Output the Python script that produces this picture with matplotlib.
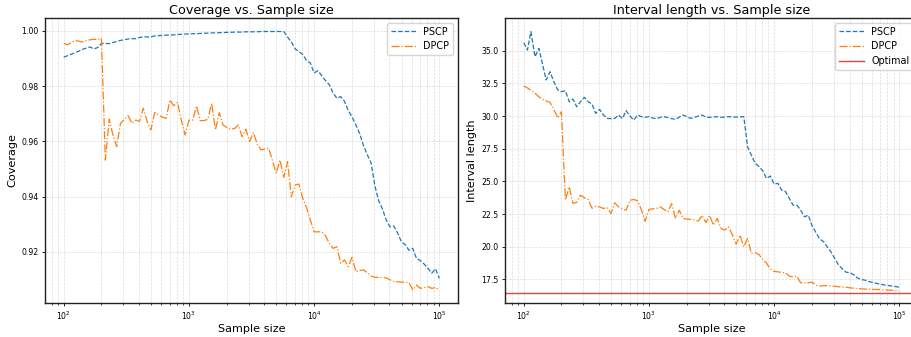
import numpy as np
import matplotlib
matplotlib.use('Agg')
import matplotlib.pyplot as plt

# sample sizes (log spaced, 100 points)
sample_sizes = [100, 107, 114, 123, 132, 141, 151, 162, 174, 187,
                200, 215, 231, 247, 265, 284, 305, 327, 351, 376,
                403, 432, 464, 497, 533, 572, 613, 657, 705, 756,
                811, 869, 932, 1000, 1072, 1149, 1232, 1321, 1417, 1519,
                1629, 1747, 1873, 2009, 2154, 2310, 2477, 2656, 2848, 3053,
                3274, 3511, 3764, 4037, 4328, 4641, 4977, 5336, 5722, 6135,
                6579, 7054, 7564, 8111, 8697, 9326, 10000, 10722, 11497, 12328,
                13219, 14174, 15199, 16297, 17475, 18738, 20092, 21544, 23101, 24770,
                26560, 28480, 30538, 32745, 35111, 37649, 40370, 43287, 46415, 49770,
                53366, 57223, 61359, 65793, 70548, 75646, 81113, 86974, 93260, 100000]

# coverage
pscp_cov = [0.9905, 0.9910, 0.9915, 0.9921, 0.9927, 0.9933, 0.9938, 0.9942, 0.9935, 0.9940,
            0.9955, 0.9955, 0.9954, 0.9958, 0.9962, 0.9966, 0.9968, 0.9971, 0.9972, 0.9972,
            0.9976, 0.9979, 0.9978, 0.9979, 0.9982, 0.9983, 0.9984, 0.9985, 0.9985, 0.9986,
            0.9987, 0.9988, 0.9989, 0.9989, 0.9990, 0.9990, 0.9991, 0.9992, 0.9992, 0.9993,
            0.9993, 0.9994, 0.9994, 0.9995, 0.9995, 0.9996, 0.9996, 0.9996, 0.9997, 0.9997,
            0.9997, 0.9997, 0.9998, 0.9998, 0.9998, 0.9998, 0.9998, 0.9998, 0.9998, 0.9978,
            0.9960, 0.9935, 0.9925, 0.9915, 0.9893, 0.9884, 0.9848, 0.9856, 0.9838, 0.9820,
            0.9805, 0.9775, 0.9756, 0.9762, 0.9745, 0.9712, 0.9688, 0.9660, 0.9628, 0.9585,
            0.9552, 0.9522, 0.9440, 0.9385, 0.9355, 0.9315, 0.9290, 0.9293, 0.9268, 0.9236,
            0.9226, 0.9205, 0.9212, 0.9175, 0.9168, 0.9155, 0.9140, 0.9122, 0.9138, 0.9103]
dpcp_cov = [0.9955, 0.9950, 0.9957, 0.9965, 0.9963, 0.9960, 0.9965, 0.9968, 0.9970, 0.9969,
            0.9973, 0.9532, 0.9681, 0.9623, 0.9581, 0.9665, 0.9680, 0.9693, 0.9665, 0.9677,
            0.9672, 0.9720, 0.9671, 0.9641, 0.9705, 0.9695, 0.9688, 0.9683, 0.9750, 0.9729,
            0.9741, 0.9677, 0.9623, 0.9677, 0.9677, 0.9728, 0.9675, 0.9675, 0.9680, 0.9738,
            0.9641, 0.9704, 0.9659, 0.9650, 0.9645, 0.9646, 0.9659, 0.9617, 0.9644, 0.9599,
            0.9632, 0.9590, 0.9569, 0.9572, 0.9575, 0.9532, 0.9484, 0.9532, 0.9469, 0.9526,
            0.9399, 0.9442, 0.9445, 0.9393, 0.9360, 0.9315, 0.9272, 0.9272, 0.9272, 0.9258,
            0.9230, 0.9212, 0.9218, 0.9158, 0.9170, 0.9146, 0.9180, 0.9127, 0.9132, 0.9134,
            0.9124, 0.9112, 0.9107, 0.9107, 0.9106, 0.9105, 0.9098, 0.9092, 0.9091, 0.9090,
            0.9089, 0.9088, 0.9061, 0.9079, 0.9067, 0.9070, 0.9073, 0.9067, 0.9070, 0.9062]

# interval length
pscp_len = [35.61, 35.05, 36.45, 34.54, 35.18, 34.00, 32.76, 33.39, 32.63, 32.00,
            31.86, 31.94, 31.09, 31.30, 30.71, 31.10, 31.43, 31.10, 30.90, 30.20,
            30.51, 30.10, 29.82, 29.80, 29.82, 30.08, 29.80, 30.41, 30.00, 29.69,
            30.08, 29.95, 29.90, 29.95, 29.85, 29.80, 29.90, 29.95, 29.88, 29.80,
            29.75, 29.92, 30.08, 29.95, 29.82, 29.90, 30.00, 30.08, 29.92, 29.90,
            29.92, 29.95, 29.90, 29.92, 29.95, 29.93, 29.92, 29.94, 29.95, 27.65,
            27.00, 26.38, 26.15, 25.80, 25.23, 25.41, 24.80, 24.85, 24.33, 24.22,
            23.70, 23.18, 23.18, 22.80, 22.29, 22.42, 21.60, 21.10, 20.60, 20.40,
            19.99, 19.60, 19.10, 18.60, 18.30, 18.05, 18.02, 17.85, 17.60, 17.50,
            17.44, 17.34, 17.27, 17.20, 17.14, 17.08, 17.04, 17.00, 16.96, 16.90]
dpcp_len = [32.30, 32.15, 31.98, 31.75, 31.48, 31.28, 31.15, 31.05, 30.50, 29.85,
            30.33, 23.57, 24.59, 23.32, 23.40, 23.95, 23.75, 23.62, 22.95, 23.10,
            23.05, 22.93, 23.00, 22.55, 23.36, 23.05, 22.90, 22.80, 23.55, 23.62,
            23.52, 22.85, 21.94, 22.86, 22.90, 22.93, 23.06, 22.85, 22.67, 23.31,
            22.17, 22.80, 22.17, 22.12, 22.10, 22.05, 21.96, 22.40, 21.85, 22.40,
            21.65, 22.17, 21.40, 21.27, 21.52, 20.90, 20.20, 20.89, 19.99, 20.64,
            19.49, 19.55, 19.40, 19.05, 18.75, 18.30, 18.12, 18.08, 18.04, 18.00,
            17.75, 17.70, 17.75, 17.24, 17.24, 17.24, 17.30, 17.05, 17.00, 17.02,
            17.03, 17.00, 16.98, 16.94, 16.92, 16.90, 16.86, 16.83, 16.81, 16.78,
            16.76, 16.75, 16.74, 16.73, 16.73, 16.71, 16.69, 16.68, 16.66, 16.62]
optimal_len = 16.48

fig = plt.figure(figsize=(9.12, 3.37), dpi=100)
ax1 = fig.add_axes([0.0493, 0.1009, 0.453, 0.8457])
ax2 = fig.add_axes([0.5537, 0.1009, 0.453, 0.8457])

def style(ax, title, ylabel):
    ax.set_xscale('log')
    ax.set_title(title, fontsize=9.2, pad=3)
    ax.set_xlabel('Sample size', fontsize=8.1, labelpad=2)
    ax.set_ylabel(ylabel, fontsize=8.1, labelpad=3)
    ax.tick_params(axis='both', which='major', labelsize=5.6, length=2.5, width=0.6, pad=2)
    ax.tick_params(axis='both', which='minor', length=1.5, width=0.5)
    ax.grid(True, which='both', linestyle='--', linewidth=0.5, color='#cccccc', alpha=0.7)
    for s in ax.spines.values():
        s.set_linewidth(1.0)
        s.set_color('#222222')
    ax.legend(loc='upper right', fontsize=6.9, handlelength=2.6, borderaxespad=0.5)

ax1.plot(sample_sizes, pscp_cov, color='tab:blue', linestyle='--', linewidth=0.9, label='PSCP')
ax1.plot(sample_sizes, dpcp_cov, color='tab:orange', linestyle='-.', linewidth=0.9, label='DPCP')
style(ax1, 'Coverage vs. Sample size', 'Coverage')
ax1.set_ylim(0.9014, 1.0047)
ax1.set_yticks([0.92, 0.94, 0.96, 0.98, 1.00])

ax2.plot(sample_sizes, pscp_len, color='tab:blue', linestyle='--', linewidth=0.9, label='PSCP')
ax2.plot(sample_sizes, dpcp_len, color='tab:orange', linestyle='-.', linewidth=0.9, label='DPCP')
ax2.axhline(optimal_len, color='tab:red', linestyle='-', linewidth=1.0, alpha=0.85, label='Optimal')
style(ax2, 'Interval length vs. Sample size', 'Interval length')
ax2.set_ylim(15.7, 37.5)
ax2.set_yticks([17.5, 20.0, 22.5, 25.0, 27.5, 30.0, 32.5, 35.0])

plt.savefig('out.png', dpi=100)
